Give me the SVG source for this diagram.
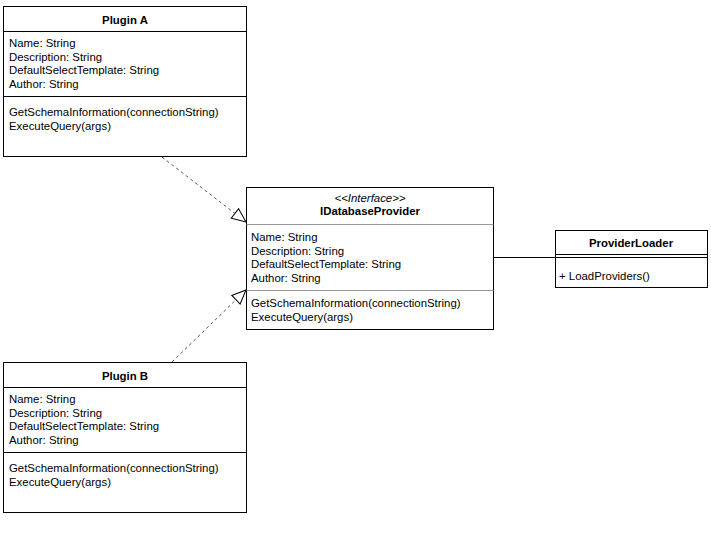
<svg xmlns="http://www.w3.org/2000/svg" width="711" height="541" viewBox="0 0 711 541">
<style>
text{font-family:"Liberation Sans",Arial,sans-serif;font-size:11.4px;fill:#000}
.t{font-weight:bold;text-anchor:middle}
.i{font-style:italic;text-anchor:middle}
.box{fill:#fff;stroke:#000;stroke-width:1}
.sep{stroke:#000;stroke-width:1}
.sepl{stroke:#999;stroke-width:1}
.dash{fill:none;stroke:#555;stroke-width:1;stroke-dasharray:3,3}
.solid{fill:none;stroke:#000;stroke-width:1}
</style>
<defs>
<marker id="tri" markerWidth="16" markerHeight="14" refX="15" refY="7" orient="auto" markerUnits="userSpaceOnUse">
<path d="M1,1 L15,7 L1,13 Z" fill="#fff" stroke="#000" stroke-width="1"/>
</marker>
</defs>
<rect width="711" height="541" fill="#fff"/>
<g id="connectors">
<line class="dash" x1="162" y1="157" x2="246" y2="222" marker-end="url(#tri)"/>
<line class="dash" x1="172" y1="362" x2="246" y2="290" marker-end="url(#tri)"/>
<line class="solid" x1="493" y1="257.5" x2="555" y2="257.5"/>
</g>
<g id="pluginA">
<rect class="box" x="3.5" y="6.5" width="243" height="150"/>
<line class="sep" x1="3.5" y1="31.5" x2="246.5" y2="31.5"/>
<line class="sep" x1="3.5" y1="96.5" x2="246.5" y2="96.5"/>
<text class="t" x="125" y="24">Plugin A</text>
<text x="9" y="47">Name: String</text>
<text x="9" y="60.5">Description: String</text>
<text x="9" y="74">DefaultSelectTemplate: String</text>
<text x="9" y="87.5">Author: String</text>
<text x="9" y="116">GetSchemaInformation(connectionString)</text>
<text x="9" y="129.5">ExecuteQuery(args)</text>
</g>
<g id="pluginB">
<rect class="box" x="3.5" y="362.5" width="243" height="150"/>
<line class="sep" x1="3.5" y1="387.5" x2="246.5" y2="387.5"/>
<line class="sep" x1="3.5" y1="452.5" x2="246.5" y2="452.5"/>
<text class="t" x="125" y="380">Plugin B</text>
<text x="9" y="403">Name: String</text>
<text x="9" y="416.5">Description: String</text>
<text x="9" y="430">DefaultSelectTemplate: String</text>
<text x="9" y="443.5">Author: String</text>
<text x="9" y="472">GetSchemaInformation(connectionString)</text>
<text x="9" y="485.5">ExecuteQuery(args)</text>
</g>
<g id="iDatabaseProvider">
<rect class="box" x="246.5" y="187.5" width="247" height="142"/>
<line class="sepl" x1="246.5" y1="224.5" x2="493.5" y2="224.5"/>
<line class="sepl" x1="246.5" y1="290.5" x2="493.5" y2="290.5"/>
<text class="i" x="370" y="202">&lt;&lt;Interface&gt;&gt;</text>
<text class="t" x="370" y="215">IDatabaseProvider</text>
<text x="251" y="241">Name: String</text>
<text x="251" y="254.5">Description: String</text>
<text x="251" y="268">DefaultSelectTemplate: String</text>
<text x="251" y="281.5">Author: String</text>
<text x="251" y="307">GetSchemaInformation(connectionString)</text>
<text x="251" y="320.5">ExecuteQuery(args)</text>
</g>
<g id="providerLoader">
<rect class="box" x="555.5" y="230.5" width="152" height="57"/>
<line class="sep" x1="555.5" y1="254.5" x2="707.5" y2="254.5"/>
<line class="sep" x1="555.5" y1="257.5" x2="707.5" y2="257.5"/>
<text class="t" x="631" y="247">ProviderLoader</text>
<text x="559" y="280">+ LoadProviders()</text>
</g>
</svg>
